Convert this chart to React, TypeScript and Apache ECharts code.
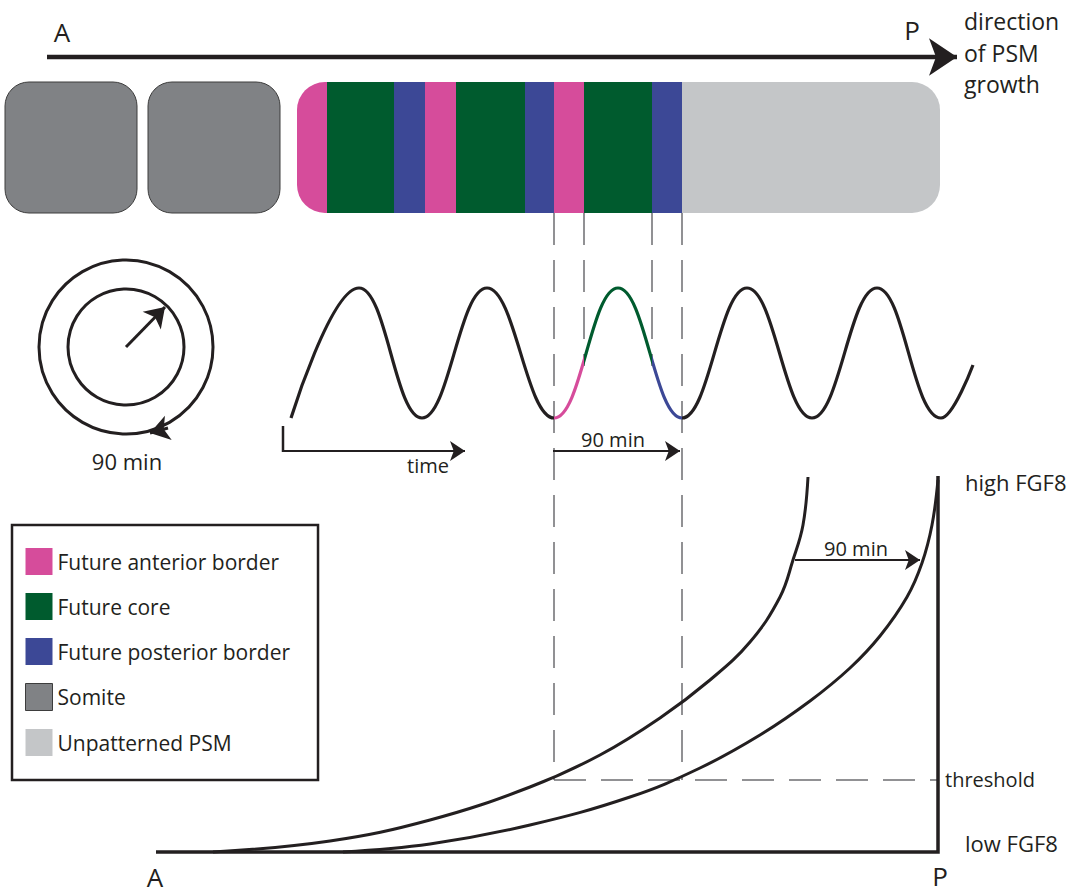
import React, { useEffect, useRef } from "react";
import * as echarts from "echarts";

// ---------- data (diagram units) ----------
const FONT = '"Open Sans", "Noto Sans", sans-serif';
const INK = "#231f20";
const DASH = "#6d6e71";

const legendNames = ["Future anterior border", "Future core", "Future posterior border", "Somite", "Unpatterned PSM"];
const legendColors = ["#d64c9b", "#005b2e", "#3c4896", "#808285", "#c4c6c8"];

// tissue bar
const barTop = 82;
const barBottom = 213;
const psmStart = 297;
const psmEnd = 940;
const somiteBlocks = [[5, 137], [148, 280]];
const anteriorBands = [[297, 327], [425, 456], [554, 584]];
const coreBands = [[327, 394], [456, 525], [584, 652]];
const posteriorBands = [[394, 425], [525, 554], [652, 682]];
const unpatternedBands = [[682, 940]];

// oscillation: troughs and peaks
const waveX = [291, 359, 422, 487, 554, 618, 682, 747, 812, 877, 941, 973];
const waveY = [418, 288, 418, 288, 418, 288, 418, 288, 418, 288, 418, 365];
// colour windows of the oscillation (one cycle)
const cycleEdges = [554, 584, 652, 682];

// FGF8 gradient curves
const gradientNow = [[213, 852], [330, 841], [430, 820], [530, 787], [600, 755], [660, 718], [710, 680], [750, 642], [780, 597], [793, 560], [803, 525], [808, 477]];
const gradientLater = [[343, 852], [430, 844], [530, 825], [630, 797], [700, 768], [760, 735], [810, 701], [850, 668], [880, 636], [907, 597], [922, 563], [932, 525], [938, 480]];

// clock
const clockCenter = [126, 347];
const clockRadii = [87, 58];

// lines
const axesLines = [[[156, 852], [938, 852], [938, 476]]];
const timeTick = [[[283, 426], [283, 452]]];
const dashedLines = [
  [[554, 213], [554, 780]],
  [[682, 213], [682, 780]],
  [[584, 213], [584, 366]],
  [[652, 213], [652, 366]],
  [[554, 780], [938, 780]],
];
const smallArrows = [
  [[283, 451], [465, 451]],
  [[553, 451], [680, 451]],
  [[795, 560], [920, 560]],
];
const growthArrow = [[[47, 57], [957, 57]]];
const clockArrows = [
  [[126, 347], [165, 307]],
  [[168, 428], [150, 433]],
];

// annotations
const labels = [
  { t: "A", x: 62, y: 32, s: 26, a: "center" },
  { t: "P", x: 912, y: 30, s: 26, a: "center" },
  { t: "direction", x: 964, y: 21, s: 23, a: "left" },
  { t: "of PSM", x: 964, y: 53, s: 23, a: "left" },
  { t: "growth", x: 964, y: 84, s: 23, a: "left" },
  { t: "90 min", x: 127, y: 461, s: 22, a: "center" },
  { t: "time", x: 428, y: 465, s: 20, a: "center" },
  { t: "90 min", x: 613, y: 439, s: 20, a: "center" },
  { t: "high FGF8", x: 965, y: 482, s: 22, a: "left" },
  { t: "90 min", x: 856, y: 548, s: 20, a: "center" },
  { t: "threshold", x: 945, y: 779, s: 20, a: "left" },
  { t: "low FGF8", x: 965, y: 843, s: 22, a: "left" },
  { t: "A", x: 155, y: 877, s: 26, a: "center" },
  { t: "P", x: 940, y: 876, s: 26, a: "center" },
];

// ---------- helpers ----------
function bandSeries(name: string, color: string, bands: number[][], somite: boolean) {
  return {
    type: "custom",
    name,
    coordinateSystem: "cartesian2d",
    itemStyle: { color },
    data: bands,
    z: 2,
    renderItem: (_p: any, api: any) => {
      const x0 = api.value(0);
      const x1 = api.value(1);
      const a = api.coord([x0, barTop]);
      const b = api.coord([x1, barBottom]);
      let r: any;
      if (somite) r = 24;
      else {
        const l = x0 === psmStart ? 28 : 0;
        const rr = x1 === psmEnd ? 28 : 0;
        r = [l, rr, rr, l];
      }
      return {
        type: "rect",
        shape: { x: a[0], y: a[1], width: b[0] - a[0], height: b[1] - a[1], r },
        style: somite ? { fill: color, stroke: "#3d3d3d", lineWidth: 1 } : { fill: color },
      };
    },
  };
}

function linesSeries(data: number[][][], width: number, extra: any = {}) {
  return {
    type: "lines",
    coordinateSystem: "cartesian2d",
    polyline: true,
    symbol: "none",
    lineStyle: { color: INK, width, opacity: 1, curveness: 0 },
    data: data.map((c) => ({ coords: c })),
    z: 4,
    ...extra,
  };
}

export default function App() {
  const ref = useRef<HTMLDivElement>(null);
  useEffect(() => {
    if (!ref.current) return;
    const chart = echarts.init(ref.current, null, { renderer: "svg" });
    const [pink, green, blue, somiteC, psmC] = legendColors;
    const series: any[] = [
      bandSeries(legendNames[0], pink, anteriorBands, false),
      bandSeries(legendNames[1], green, coreBands, false),
      bandSeries(legendNames[2], blue, posteriorBands, false),
      bandSeries(legendNames[3], somiteC, somiteBlocks, true),
      bandSeries(legendNames[4], psmC, unpatternedBands, false),
      {
        type: "line",
        name: "oscillation",
        data: waveX.map((x, i) => [x, waveY[i]]),
        smooth: 0.42,
        symbol: "none",
        lineStyle: { width: 3.2 },
        z: 5,
      },
      {
        type: "line",
        name: "gradient now",
        data: gradientNow,
        smooth: 0.4,
        symbol: "none",
        lineStyle: { width: 3, color: INK },
        itemStyle: { color: INK },
        z: 5,
      },
      {
        type: "line",
        name: "gradient later",
        data: gradientLater,
        smooth: 0.4,
        symbol: "none",
        lineStyle: { width: 3, color: INK },
        itemStyle: { color: INK },
        z: 5,
      },
      {
        type: "custom",
        name: "clock",
        coordinateSystem: "cartesian2d",
        data: [clockCenter],
        z: 4,
        renderItem: (_p: any, api: any) => {
          const c = api.coord([api.value(0), api.value(1)]);
          return {
            type: "group",
            children: clockRadii.map((r) => ({
              type: "circle",
              shape: { cx: c[0], cy: c[1], r: api.size([r, 0])[0] },
              style: { fill: "none", stroke: INK, lineWidth: 3 },
            })),
          };
        },
      },
      linesSeries(axesLines, 3.5),
      linesSeries(timeTick, 2.5),
      linesSeries(dashedLines, 1.5, {
        polyline: false,
        lineStyle: { color: DASH, width: 1.5, type: [32, 15], opacity: 1 },
        z: 3,
      }),
      linesSeries(smallArrows, 2.2, { polyline: false, symbol: ["none", "arrow"], symbolSize: [11, 15] }),
      linesSeries(growthArrow, 4.3, { polyline: false, symbol: ["none", "arrow"], symbolSize: [22, 28] }),
      linesSeries(clockArrows, 3, { polyline: false, symbol: ["none", "arrow"], symbolSize: [15, 19] }),
      {
        type: "custom",
        name: "labels",
        coordinateSystem: "cartesian2d",
        data: labels.map((l) => [l.x, l.y]),
        z: 10,
        renderItem: (p: any, api: any) => {
          const l = labels[p.dataIndex];
          const c = api.coord([api.value(0), api.value(1)]);
          return {
            type: "text",
            x: c[0],
            y: c[1],
            style: {
              text: l.t,
              fill: INK,
              fontSize: l.s,
              fontFamily: FONT,
              align: l.a,
              verticalAlign: "middle",
            },
          };
        },
      },
    ];
    const waveIndex = 5;
    chart.setOption({
      animation: false,
      backgroundColor: "#ffffff",
      grid: { left: 0, right: 0, top: 0, bottom: 0 },
      xAxis: { type: "value", min: 0, max: 1083, show: false },
      yAxis: { type: "value", min: 0, max: 895, inverse: true, show: false },
      visualMap: {
        type: "piecewise",
        show: false,
        dimension: 0,
        seriesIndex: waveIndex,
        pieces: [
          { lt: cycleEdges[0], color: INK },
          { gte: cycleEdges[0], lt: cycleEdges[1], color: pink },
          { gte: cycleEdges[1], lt: cycleEdges[2], color: green },
          { gte: cycleEdges[2], lt: cycleEdges[3], color: blue },
          { gte: cycleEdges[3], color: INK },
        ],
      },
      legend: {
        orient: "vertical",
        left: 12,
        top: 525,
        padding: [23, 28, 24, 13],
        itemWidth: 27,
        itemHeight: 27,
        itemGap: 18,
        icon: "rect",
        borderColor: INK,
        borderWidth: 2.5,
        borderRadius: 0,
        selectedMode: false,
        textStyle: { fontSize: 21, fontFamily: FONT, color: INK },
        data: legendNames.map((n, i) => ({
          name: n,
          itemStyle:
            i === 3
              ? { color: legendColors[i], borderColor: "#3d3d3d", borderWidth: 1 }
              : { color: legendColors[i], borderWidth: 0 },
        })),
      },
      series,
    });
    return () => chart.dispose();
  }, []);
  return (
    <div
      ref={ref}
      style={{ position: "absolute", left: 0, top: 0, width: 1083, height: 895, background: "#fff" }}
    />
  );
}
